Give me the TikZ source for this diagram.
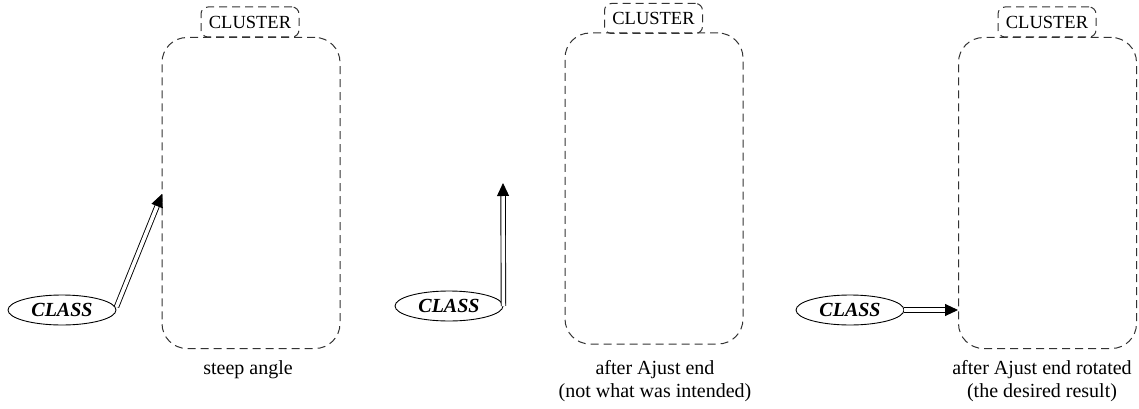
\documentclass[tikz,border=0pt]{standalone}
\usepackage{fontspec}
\setmainfont{Liberation Serif}
\usetikzlibrary{arrows.meta,shapes.geometric,calc}
\tikzset{
  cluster/.style={draw=black!80, dash pattern=on 8pt off 5pt, line width=1pt, rounded corners=25pt, minimum width=178pt, minimum height=311pt, inner sep=0pt},
  tab/.style={draw=black!80, dash pattern=on 8pt off 5pt, line width=1pt, rounded corners=7pt, minimum width=98pt, minimum height=30pt, inner sep=0pt, font=\fontsize{18.5}{20}\selectfont},
  cls/.style={draw, ellipse, line width=0.9pt, minimum width=108pt, minimum height=30pt, inner sep=0pt, font=\fontsize{20}{22}\selectfont\bfseries\itshape},
  captext/.style={font=\fontsize{20}{23}\selectfont, align=center, inner sep=0pt},
  dbl/.style={double, double distance=3.6pt, line width=0.9pt, -{Triangle[length=13pt,width=12pt]}}
}
\begin{document}
\begin{tikzpicture}[x=1pt,y=-1pt]
\useasboundingbox (0,0) rectangle (1139,409);
% panel 1
\node[cluster] (k1) at (251,193) {};
\node[tab] (t1) at (250,22) {CLUSTER};
\node[cls] (e1) at (62,310) {CLASS};
\node[captext] (l1) at (248,370) {steep angle};
\coordinate (p1) at (162,194);
\draw[dbl] (e1.east) ++(0,-3) -- (p1);
% panel 2
\node[cluster] (k2) at (654,188.5) {};
\node[tab] (t2) at (653.5,18.5) {CLUSTER};
\node[cls] (e2) at (449,306) {CLASS};
\node[captext] (l2) at (655,381) {after Ajust end\\(not what was intended)};
\coordinate (p2) at (503,183);
\draw[dbl] (e2.east) -- (p2);
% panel 3
\node[cluster] (k3) at (1047.5,193) {};
\node[tab] (t3) at (1047,22) {CLUSTER};
\node[cls] (e3) at (850,310) {CLASS};
\node[captext] (l3) at (1042,381) {after Ajust end rotated\\(the desired result)};
\draw[dbl] (e3.east) -- (e3.east -| k3.west);
\end{tikzpicture}
\end{document}
